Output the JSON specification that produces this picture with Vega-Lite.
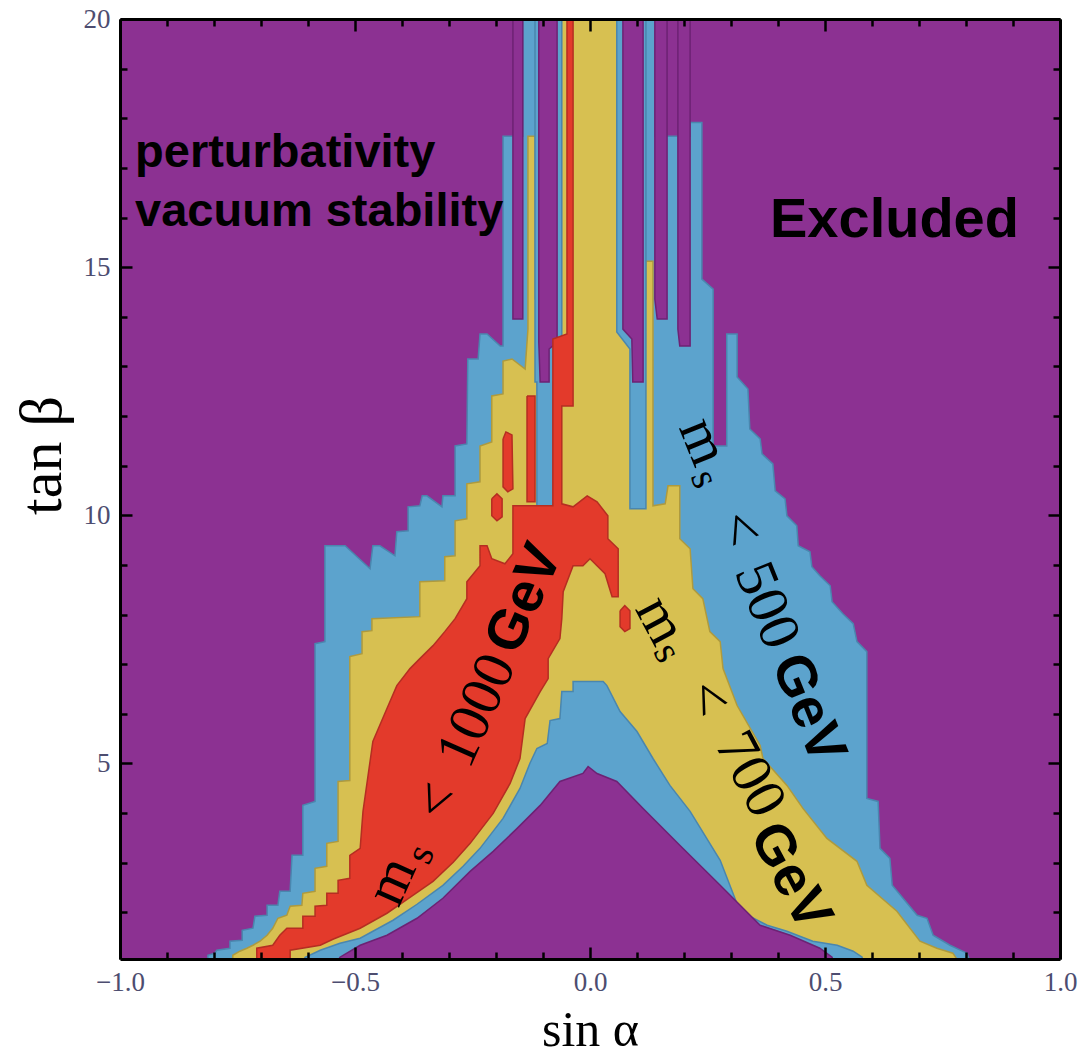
{
  "$schema": "https://vega.github.io/schema/vega-lite/v6.json",
  "width": 940,
  "height": 940,
  "autosize": "none",
  "padding": {"left": 120, "top": 19, "right": 22, "bottom": 97},
  "background": "white",
  "config": {"view": {"fill": "#8C3192", "stroke": null}},
  "datasets": {
    "blueOuter": [
      {"p":"o","i":0,"x":-0.813,"y":0.9},{"p":"o","i":1,"x":-0.813,"y":1.136},{"p":"o","i":2,"x":-0.798,"y":1.177},{"p":"o","i":3,"x":-0.794,"y":1.237},
      {"p":"o","i":4,"x":-0.766,"y":1.277},{"p":"o","i":5,"x":-0.766,"y":1.418},{"p":"o","i":6,"x":-0.740,"y":1.438},{"p":"o","i":7,"x":-0.740,"y":1.639},
      {"p":"o","i":8,"x":-0.717,"y":1.680},{"p":"o","i":9,"x":-0.713,"y":1.921},{"p":"o","i":10,"x":-0.687,"y":1.941},{"p":"o","i":11,"x":-0.687,"y":2.143},
      {"p":"o","i":12,"x":-0.664,"y":2.143},{"p":"o","i":13,"x":-0.660,"y":2.424},{"p":"o","i":14,"x":-0.638,"y":2.424},{"p":"o","i":15,"x":-0.634,"y":3.148},
      {"p":"o","i":16,"x":-0.611,"y":3.148},{"p":"o","i":17,"x":-0.611,"y":4.155},{"p":"o","i":18,"x":-0.585,"y":4.235},{"p":"o","i":19,"x":-0.585,"y":7.414},
      {"p":"o","i":20,"x":-0.564,"y":7.455},{"p":"o","i":21,"x":-0.564,"y":9.386},{"p":"o","i":22,"x":-0.521,"y":9.386},{"p":"o","i":23,"x":-0.468,"y":8.923},
      {"p":"o","i":24,"x":-0.462,"y":9.386},{"p":"o","i":25,"x":-0.447,"y":9.386},{"p":"o","i":26,"x":-0.415,"y":9.185},{"p":"o","i":27,"x":-0.411,"y":9.668},
      {"p":"o","i":28,"x":-0.387,"y":9.688},{"p":"o","i":29,"x":-0.387,"y":10.171},{"p":"o","i":30,"x":-0.362,"y":10.191},{"p":"o","i":31,"x":-0.357,"y":10.392},
      {"p":"o","i":32,"x":-0.347,"y":10.392},{"p":"o","i":33,"x":-0.315,"y":10.171},{"p":"o","i":34,"x":-0.313,"y":10.392},{"p":"o","i":35,"x":-0.287,"y":10.392},
      {"p":"o","i":36,"x":-0.287,"y":11.398},{"p":"o","i":37,"x":-0.262,"y":11.439},{"p":"o","i":38,"x":-0.260,"y":13.149},{"p":"o","i":39,"x":-0.238,"y":13.149},
      {"p":"o","i":40,"x":-0.234,"y":13.652},{"p":"o","i":41,"x":-0.219,"y":13.652},{"p":"o","i":42,"x":-0.191,"y":13.410},{"p":"o","i":43,"x":-0.185,"y":13.410},
      {"p":"o","i":44,"x":-0.185,"y":17.636},{"p":"o","i":45,"x":-0.143,"y":17.636},{"p":"o","i":46,"x":-0.143,"y":20.3},{"p":"o","i":47,"x":0.138,"y":20.3},
      {"p":"o","i":48,"x":0.138,"y":17.636},{"p":"o","i":49,"x":0.213,"y":17.636},{"p":"o","i":50,"x":0.213,"y":17.917},{"p":"o","i":51,"x":0.238,"y":17.917},
      {"p":"o","i":52,"x":0.238,"y":14.758},{"p":"o","i":53,"x":0.262,"y":14.557},{"p":"o","i":54,"x":0.262,"y":11.398},{"p":"o","i":55,"x":0.291,"y":11.398},
      {"p":"o","i":56,"x":0.291,"y":13.652},{"p":"o","i":57,"x":0.313,"y":13.652},{"p":"o","i":58,"x":0.313,"y":12.787},{"p":"o","i":59,"x":0.336,"y":12.545},
      {"p":"o","i":60,"x":0.340,"y":11.740},{"p":"o","i":61,"x":0.362,"y":11.539},{"p":"o","i":62,"x":0.366,"y":11.237},{"p":"o","i":63,"x":0.389,"y":11.036},
      {"p":"o","i":64,"x":0.394,"y":10.493},{"p":"o","i":65,"x":0.415,"y":10.332},{"p":"o","i":66,"x":0.419,"y":9.990},{"p":"o","i":67,"x":0.440,"y":9.788},
      {"p":"o","i":68,"x":0.443,"y":9.386},{"p":"o","i":69,"x":0.468,"y":9.265},{"p":"o","i":70,"x":0.472,"y":8.964},{"p":"o","i":71,"x":0.489,"y":8.782},
      {"p":"o","i":72,"x":0.511,"y":8.581},{"p":"o","i":73,"x":0.515,"y":8.259},{"p":"o","i":74,"x":0.538,"y":8.018},{"p":"o","i":75,"x":0.560,"y":7.817},
      {"p":"o","i":76,"x":0.568,"y":7.455},{"p":"o","i":77,"x":0.589,"y":7.253},{"p":"o","i":78,"x":0.589,"y":4.296},{"p":"o","i":79,"x":0.613,"y":4.235},
      {"p":"o","i":80,"x":0.617,"y":3.289},{"p":"o","i":81,"x":0.638,"y":3.088},{"p":"o","i":82,"x":0.643,"y":2.545},{"p":"o","i":83,"x":0.696,"y":1.941},
      {"p":"o","i":84,"x":0.717,"y":1.881},{"p":"o","i":85,"x":0.730,"y":1.539},{"p":"o","i":86,"x":0.766,"y":1.337},{"p":"o","i":87,"x":0.802,"y":1.177},
      {"p":"o","i":88,"x":0.813,"y":0.9}
    ],
    "yellow": [
      {"p":"y","i":0,"x":-0.760,"y":0.9},{"p":"y","i":1,"x":-0.760,"y":1.136},{"p":"y","i":2,"x":-0.745,"y":1.217},{"p":"y","i":3,"x":-0.730,"y":1.277},
      {"p":"y","i":4,"x":-0.717,"y":1.337},{"p":"y","i":5,"x":-0.702,"y":1.418},{"p":"y","i":6,"x":-0.687,"y":1.539},{"p":"y","i":7,"x":-0.675,"y":1.680},
      {"p":"y","i":8,"x":-0.664,"y":1.881},{"p":"y","i":9,"x":-0.645,"y":1.941},{"p":"y","i":10,"x":-0.638,"y":2.122},{"p":"y","i":11,"x":-0.613,"y":2.143},
      {"p":"y","i":12,"x":-0.611,"y":2.384},{"p":"y","i":13,"x":-0.585,"y":2.424},{"p":"y","i":14,"x":-0.585,"y":2.887},{"p":"y","i":15,"x":-0.560,"y":2.927},
      {"p":"y","i":16,"x":-0.560,"y":3.390},{"p":"y","i":17,"x":-0.536,"y":3.430},{"p":"y","i":18,"x":-0.536,"y":4.637},{"p":"y","i":19,"x":-0.511,"y":4.657},
      {"p":"y","i":20,"x":-0.511,"y":7.153},{"p":"y","i":21,"x":-0.485,"y":7.213},{"p":"y","i":22,"x":-0.485,"y":7.656},{"p":"y","i":23,"x":-0.464,"y":7.676},
      {"p":"y","i":24,"x":-0.464,"y":7.917},{"p":"y","i":25,"x":-0.362,"y":7.958},{"p":"y","i":26,"x":-0.362,"y":8.662},{"p":"y","i":27,"x":-0.309,"y":8.682},
      {"p":"y","i":28,"x":-0.309,"y":9.165},{"p":"y","i":29,"x":-0.287,"y":9.185},{"p":"y","i":30,"x":-0.287,"y":9.889},{"p":"y","i":31,"x":-0.262,"y":9.929},
      {"p":"y","i":32,"x":-0.262,"y":10.634},{"p":"y","i":33,"x":-0.234,"y":10.674},{"p":"y","i":34,"x":-0.234,"y":11.398},{"p":"y","i":35,"x":-0.209,"y":11.479},
      {"p":"y","i":36,"x":-0.209,"y":12.404},{"p":"y","i":37,"x":-0.185,"y":12.445},{"p":"y","i":38,"x":-0.185,"y":13.109},{"p":"y","i":39,"x":-0.166,"y":13.149},
      {"p":"y","i":40,"x":-0.138,"y":12.948},{"p":"y","i":41,"x":-0.132,"y":13.752},{"p":"y","i":42,"x":-0.132,"y":17.636},{"p":"y","i":43,"x":-0.117,"y":17.636},
      {"p":"y","i":44,"x":-0.117,"y":14.356},{"p":"y","i":45,"x":-0.068,"y":14.356},{"p":"y","i":46,"x":-0.068,"y":20.3},{"p":"y","i":47,"x":0.057,"y":20.3},
      {"p":"y","i":48,"x":0.057,"y":14.356},{"p":"y","i":49,"x":0.119,"y":14.356},{"p":"y","i":50,"x":0.119,"y":15.121},{"p":"y","i":51,"x":0.134,"y":15.121},
      {"p":"y","i":52,"x":0.134,"y":10.191},{"p":"y","i":53,"x":0.160,"y":10.231},{"p":"y","i":54,"x":0.166,"y":10.593},{"p":"y","i":55,"x":0.191,"y":10.593},
      {"p":"y","i":56,"x":0.191,"y":9.527},{"p":"y","i":57,"x":0.213,"y":9.326},{"p":"y","i":58,"x":0.219,"y":8.521},{"p":"y","i":59,"x":0.240,"y":8.320},
      {"p":"y","i":60,"x":0.255,"y":7.656},{"p":"y","i":61,"x":0.277,"y":7.455},{"p":"y","i":62,"x":0.283,"y":6.911},{"p":"y","i":63,"x":0.313,"y":6.167},
      {"p":"y","i":64,"x":0.362,"y":5.362},{"p":"y","i":65,"x":0.368,"y":5.100},{"p":"y","i":66,"x":0.419,"y":4.557},{"p":"y","i":67,"x":0.453,"y":4.094},
      {"p":"y","i":68,"x":0.504,"y":3.491},{"p":"y","i":69,"x":0.568,"y":3.028},{"p":"y","i":70,"x":0.589,"y":2.545},{"p":"y","i":71,"x":0.653,"y":2.022},
      {"p":"y","i":72,"x":0.702,"y":1.418},{"p":"y","i":73,"x":0.738,"y":1.277},{"p":"y","i":74,"x":0.772,"y":1.177},{"p":"y","i":75,"x":0.792,"y":0.9}
    ],
    "blueFingers": [
      {"p":"C","i":0,"x":-0.117,"y":20.3},{"p":"C","i":1,"x":-0.060,"y":20.3},{"p":"C","i":2,"x":-0.060,"y":12.686},{"p":"C","i":3,"x":-0.079,"y":12.686},
      {"p":"C","i":4,"x":-0.079,"y":10.131},{"p":"C","i":5,"x":-0.113,"y":10.131},{"p":"C","i":6,"x":-0.113,"y":12.686},{"p":"C","i":7,"x":-0.117,"y":12.686},
      {"p":"C","i":8,"x":-0.117,"y":20.3},
      {"p":"D","i":0,"x":0.057,"y":20.3},{"p":"D","i":1,"x":0.119,"y":20.3},{"p":"D","i":2,"x":0.119,"y":10.131},{"p":"D","i":3,"x":0.085,"y":10.131},
      {"p":"D","i":4,"x":0.085,"y":13.350},{"p":"D","i":5,"x":0.057,"y":13.692},{"p":"D","i":6,"x":0.057,"y":20.3}
    ],
    "purpleFingers": [
      {"p":"B","i":0,"x":-0.164,"y":20.3},{"p":"B","i":1,"x":-0.143,"y":20.3},{"p":"B","i":2,"x":-0.143,"y":13.953},{"p":"B","i":3,"x":-0.164,"y":13.953},{"p":"B","i":4,"x":-0.164,"y":20.3},
      {"p":"C","i":0,"x":-0.109,"y":20.3},{"p":"C","i":1,"x":-0.070,"y":20.3},{"p":"C","i":2,"x":-0.070,"y":13.490},{"p":"C","i":3,"x":-0.087,"y":13.350},
      {"p":"C","i":4,"x":-0.087,"y":12.686},{"p":"C","i":5,"x":-0.106,"y":12.686},{"p":"C","i":6,"x":-0.109,"y":13.490},{"p":"C","i":7,"x":-0.109,"y":20.3},
      {"p":"D","i":0,"x":0.070,"y":20.3},{"p":"D","i":1,"x":0.113,"y":20.3},{"p":"D","i":2,"x":0.113,"y":12.686},{"p":"D","i":3,"x":0.091,"y":12.686},
      {"p":"D","i":4,"x":0.089,"y":13.551},{"p":"D","i":5,"x":0.070,"y":13.752},{"p":"D","i":6,"x":0.070,"y":20.3},
      {"p":"E","i":0,"x":0.138,"y":20.3},{"p":"E","i":1,"x":0.164,"y":20.3},{"p":"E","i":2,"x":0.164,"y":13.953},{"p":"E","i":3,"x":0.143,"y":13.953},
      {"p":"E","i":4,"x":0.138,"y":14.356},{"p":"E","i":5,"x":0.138,"y":20.3},
      {"p":"F","i":0,"x":0.187,"y":20.3},{"p":"F","i":1,"x":0.213,"y":20.3},{"p":"F","i":2,"x":0.213,"y":13.410},{"p":"F","i":3,"x":0.191,"y":13.410},
      {"p":"F","i":4,"x":0.187,"y":13.752},{"p":"F","i":5,"x":0.187,"y":20.3}
    ],
    "red": [
      {"p":"R1","i":0,"x":-0.709,"y":0.9},{"p":"R1","i":1,"x":-0.709,"y":1.277},{"p":"R1","i":2,"x":-0.675,"y":1.337},{"p":"R1","i":3,"x":-0.660,"y":1.539},
      {"p":"R1","i":4,"x":-0.645,"y":1.680},{"p":"R1","i":5,"x":-0.611,"y":1.680},{"p":"R1","i":6,"x":-0.611,"y":1.921},{"p":"R1","i":7,"x":-0.585,"y":1.921},
      {"p":"R1","i":8,"x":-0.585,"y":2.122},{"p":"R1","i":9,"x":-0.560,"y":2.143},{"p":"R1","i":10,"x":-0.560,"y":2.384},{"p":"R1","i":11,"x":-0.536,"y":2.384},
      {"p":"R1","i":12,"x":-0.536,"y":2.645},{"p":"R1","i":13,"x":-0.511,"y":2.686},{"p":"R1","i":14,"x":-0.511,"y":3.148},{"p":"R1","i":15,"x":-0.489,"y":3.289},
      {"p":"R1","i":16,"x":-0.483,"y":4.034},{"p":"R1","i":17,"x":-0.462,"y":5.442},{"p":"R1","i":18,"x":-0.432,"y":6.106},{"p":"R1","i":19,"x":-0.411,"y":6.569},
      {"p":"R1","i":20,"x":-0.383,"y":6.911},{"p":"R1","i":21,"x":-0.362,"y":7.112},{"p":"R1","i":22,"x":-0.334,"y":7.374},{"p":"R1","i":23,"x":-0.309,"y":7.656},
      {"p":"R1","i":24,"x":-0.287,"y":7.917},{"p":"R1","i":25,"x":-0.262,"y":8.320},{"p":"R1","i":26,"x":-0.262,"y":8.662},{"p":"R1","i":27,"x":-0.234,"y":8.984},
      {"p":"R1","i":28,"x":-0.234,"y":9.386},{"p":"R1","i":29,"x":-0.219,"y":9.386},{"p":"R1","i":30,"x":-0.209,"y":9.124},{"p":"R1","i":31,"x":-0.181,"y":9.024},
      {"p":"R1","i":32,"x":-0.164,"y":9.225},{"p":"R1","i":33,"x":-0.164,"y":10.191},{"p":"R1","i":34,"x":-0.079,"y":10.191},{"p":"R1","i":35,"x":-0.079,"y":13.551},
      {"p":"R1","i":36,"x":-0.049,"y":13.652},{"p":"R1","i":37,"x":-0.049,"y":20.3},{"p":"R1","i":38,"x":-0.036,"y":20.3},{"p":"R1","i":39,"x":-0.036,"y":12.203},
      {"p":"R1","i":40,"x":-0.060,"y":12.203},{"p":"R1","i":41,"x":-0.060,"y":10.231},{"p":"R1","i":42,"x":-0.036,"y":10.171},{"p":"R1","i":43,"x":-0.006,"y":10.392},
      {"p":"R1","i":44,"x":0.015,"y":10.271},{"p":"R1","i":45,"x":0.038,"y":9.990},{"p":"R1","i":46,"x":0.038,"y":9.527},{"p":"R1","i":47,"x":0.060,"y":9.326},
      {"p":"R1","i":48,"x":0.060,"y":8.360},{"p":"R1","i":49,"x":0.047,"y":8.360},{"p":"R1","i":50,"x":0.032,"y":8.823},{"p":"R1","i":51,"x":0.000,"y":9.124},
      {"p":"R1","i":52,"x":-0.015,"y":8.984},{"p":"R1","i":53,"x":-0.036,"y":8.984},{"p":"R1","i":54,"x":-0.057,"y":8.461},{"p":"R1","i":55,"x":-0.060,"y":7.917},
      {"p":"R1","i":56,"x":-0.064,"y":7.515},{"p":"R1","i":57,"x":-0.089,"y":7.112},{"p":"R1","i":58,"x":-0.089,"y":6.710},{"p":"R1","i":59,"x":-0.106,"y":6.449},
      {"p":"R1","i":60,"x":-0.138,"y":5.905},{"p":"R1","i":61,"x":-0.149,"y":5.100},{"p":"R1","i":62,"x":-0.170,"y":4.597},{"p":"R1","i":63,"x":-0.206,"y":3.994},
      {"p":"R1","i":64,"x":-0.255,"y":3.390},{"p":"R1","i":65,"x":-0.291,"y":3.008},{"p":"R1","i":66,"x":-0.334,"y":2.625},{"p":"R1","i":67,"x":-0.383,"y":2.303},
      {"p":"R1","i":68,"x":-0.432,"y":1.982},{"p":"R1","i":69,"x":-0.489,"y":1.680},{"p":"R1","i":70,"x":-0.547,"y":1.458},{"p":"R1","i":71,"x":-0.574,"y":1.337},
      {"p":"R1","i":72,"x":-0.638,"y":1.237},{"p":"R1","i":73,"x":-0.638,"y":0.9},
      {"p":"R3","i":0,"x":-0.134,"y":12.404},{"p":"R3","i":1,"x":-0.117,"y":12.404},{"p":"R3","i":2,"x":-0.117,"y":10.271},{"p":"R3","i":3,"x":-0.134,"y":10.271},{"p":"R3","i":4,"x":-0.134,"y":12.404},
      {"p":"I1","i":0,"x":-0.185,"y":11.539},{"p":"I1","i":1,"x":-0.179,"y":11.680},{"p":"I1","i":2,"x":-0.166,"y":11.620},{"p":"I1","i":3,"x":-0.164,"y":10.533},
      {"p":"I1","i":4,"x":-0.175,"y":10.473},{"p":"I1","i":5,"x":-0.185,"y":10.573},{"p":"I1","i":6,"x":-0.185,"y":11.539},
      {"p":"I2","i":0,"x":-0.209,"y":10.332},{"p":"I2","i":1,"x":-0.198,"y":10.432},{"p":"I2","i":2,"x":-0.187,"y":10.332},{"p":"I2","i":3,"x":-0.187,"y":9.970},
      {"p":"I2","i":4,"x":-0.198,"y":9.889},{"p":"I2","i":5,"x":-0.209,"y":9.990},{"p":"I2","i":6,"x":-0.209,"y":10.332},
      {"p":"I3","i":0,"x":0.064,"y":8.078},{"p":"I3","i":1,"x":0.074,"y":8.179},{"p":"I3","i":2,"x":0.085,"y":8.078},{"p":"I3","i":3,"x":0.085,"y":7.716},
      {"p":"I3","i":4,"x":0.074,"y":7.656},{"p":"I3","i":5,"x":0.064,"y":7.756},{"p":"I3","i":6,"x":0.064,"y":8.078}
    ],
    "innerBlue": [
      {"p":"ib","i":0,"x":-0.617,"y":0.9},{"p":"ib","i":1,"x":-0.606,"y":1.096},{"p":"ib","i":2,"x":-0.574,"y":1.237},{"p":"ib","i":3,"x":-0.532,"y":1.378},
      {"p":"ib","i":4,"x":-0.489,"y":1.478},{"p":"ib","i":5,"x":-0.419,"y":1.841},{"p":"ib","i":6,"x":-0.368,"y":2.163},{"p":"ib","i":7,"x":-0.313,"y":2.545},
      {"p":"ib","i":8,"x":-0.270,"y":2.927},{"p":"ib","i":9,"x":-0.234,"y":3.289},{"p":"ib","i":10,"x":-0.185,"y":3.893},{"p":"ib","i":11,"x":-0.149,"y":4.497},
      {"p":"ib","i":12,"x":-0.128,"y":5.000},{"p":"ib","i":13,"x":-0.113,"y":5.302},{"p":"ib","i":14,"x":-0.091,"y":5.402},{"p":"ib","i":15,"x":-0.085,"y":5.865},
      {"p":"ib","i":16,"x":-0.064,"y":5.905},{"p":"ib","i":17,"x":-0.060,"y":6.449},{"p":"ib","i":18,"x":-0.036,"y":6.449},{"p":"ib","i":19,"x":-0.036,"y":6.650},
      {"p":"ib","i":20,"x":0.028,"y":6.650},{"p":"ib","i":21,"x":0.036,"y":6.569},{"p":"ib","i":22,"x":0.064,"y":6.046},{"p":"ib","i":23,"x":0.100,"y":5.644},
      {"p":"ib","i":24,"x":0.134,"y":5.100},{"p":"ib","i":25,"x":0.170,"y":4.557},{"p":"ib","i":26,"x":0.213,"y":4.034},{"p":"ib","i":27,"x":0.277,"y":3.048},
      {"p":"ib","i":28,"x":0.319,"y":2.022},{"p":"ib","i":29,"x":0.377,"y":1.740},{"p":"ib","i":30,"x":0.419,"y":1.619},{"p":"ib","i":31,"x":0.474,"y":1.418},
      {"p":"ib","i":32,"x":0.526,"y":1.337},{"p":"ib","i":33,"x":0.560,"y":1.217},{"p":"ib","i":34,"x":0.579,"y":1.096},{"p":"ib","i":35,"x":0.579,"y":0.9}
    ],
    "innerPurple": [
      {"p":"ip","i":0,"x":-0.543,"y":0.9},{"p":"ip","i":1,"x":-0.532,"y":1.096},{"p":"ip","i":2,"x":-0.489,"y":1.337},{"p":"ip","i":3,"x":-0.432,"y":1.539},
      {"p":"ip","i":4,"x":-0.368,"y":1.881},{"p":"ip","i":5,"x":-0.313,"y":2.283},{"p":"ip","i":6,"x":-0.255,"y":2.826},{"p":"ip","i":7,"x":-0.206,"y":3.229},
      {"p":"ip","i":8,"x":-0.155,"y":3.692},{"p":"ip","i":9,"x":-0.106,"y":4.155},{"p":"ip","i":10,"x":-0.064,"y":4.637},{"p":"ip","i":11,"x":-0.015,"y":4.798},
      {"p":"ip","i":12,"x":-0.004,"y":4.939},{"p":"ip","i":13,"x":0.015,"y":4.798},{"p":"ip","i":14,"x":0.057,"y":4.637},{"p":"ip","i":15,"x":0.113,"y":4.094},
      {"p":"ip","i":16,"x":0.191,"y":3.350},{"p":"ip","i":17,"x":0.277,"y":2.545},{"p":"ip","i":18,"x":0.362,"y":1.740},{"p":"ip","i":19,"x":0.426,"y":1.539},
      {"p":"ip","i":20,"x":0.489,"y":1.277},{"p":"ip","i":21,"x":0.515,"y":1.096},{"p":"ip","i":22,"x":0.521,"y":0.9}
    ],
    "notes": [
      {"t":"perturbativity","x":-0.968,"y":17.01},
      {"t":"vacuum stability","x":-0.968,"y":15.825}
    ],
    "excl": [{"t":"Excluded","x":0.383,"y":15.604}],
    "mass": [
      {"g":1000,"k":"main","t":"m","x":-0.421,"y":2.625},
      {"g":1000,"k":"sub","t":"s","x":-0.360,"y":3.169},
      {"g":1000,"k":"main","t":"<","x":-0.326,"y":4.235},
      {"g":1000,"k":"main","t":"1000","x":-0.240,"y":6.066},
      {"g":1000,"k":"gev","t":"GeV","x":-0.140,"y":8.320},
      {"g":700,"k":"main","t":"m","x":0.149,"y":7.877},
      {"g":700,"k":"sub","t":"s","x":0.164,"y":7.233},
      {"g":700,"k":"main","t":"<","x":0.249,"y":6.308},
      {"g":700,"k":"main","t":"700","x":0.340,"y":4.779},
      {"g":700,"k":"gev","t":"GeV","x":0.426,"y":2.726},
      {"g":500,"k":"main","t":"m","x":0.240,"y":11.479},
      {"g":500,"k":"sub","t":"s","x":0.243,"y":10.734},
      {"g":500,"k":"main","t":"<","x":0.317,"y":9.728},
      {"g":500,"k":"main","t":"500","x":0.375,"y":8.179},
      {"g":500,"k":"gev","t":"GeV","x":0.464,"y":6.106}
    ]
  },
  "resolve": {"axis": {"x": "independent", "y": "independent"}},
  "layer": [
    {
      "data": {"name": "blueOuter"},
      "mark": {"type": "line", "fill": "#5CA3CD", "stroke": "#4A86AE", "strokeWidth": 1.5, "clip": true},
      "encoding": {
        "x": {"field": "x", "type": "quantitative", "scale": {"domain": [-1, 1], "nice": false, "zero": false},
          "axis": {"orient": "bottom", "values": [-1, -0.5, 0, 0.5, 1], "format": ".1f", "tickSize": -12, "tickWidth": 2.5, "tickColor": "black",
            "domain": true, "domainWidth": 3, "domainColor": "black", "grid": false,
            "labelFont": "Liberation Serif", "labelFontSize": 27, "labelColor": "#4d4d70", "labelPadding": 22, "labelFlush": false, "labelOverlap": false, "labelBound": false,
            "title": "sin α", "titleFont": "Liberation Serif", "titleFontSize": 50, "titleFontWeight": "normal", "titleColor": "black",
            "titleBaseline": "alphabetic", "titleY": 86, "zindex": 1}},
        "y": {"field": "y", "type": "quantitative", "scale": {"domain": [1.06, 20], "nice": false, "zero": false},
          "axis": {"orient": "left", "values": [5, 10, 15, 20], "format": "d", "tickSize": -12, "tickWidth": 2.5, "tickColor": "black",
            "domain": true, "domainWidth": 3, "domainColor": "black", "grid": false,
            "labelFont": "Liberation Serif", "labelFontSize": 27, "labelColor": "#4d4d70", "labelPadding": 22, "labelFlush": false, "labelOverlap": false, "labelBound": false,
            "title": "tan β", "titleFont": "Liberation Serif", "titleFontSize": 60, "titleFontWeight": "normal", "titleColor": "black",
            "titleAngle": 270, "titleAlign": "center", "titleBaseline": "alphabetic", "titleX": -60, "titleY": 436, "zindex": 1}},
        "detail": {"field": "p"},
        "order": {"field": "i", "type": "quantitative"}
      }
    },
    {
      "data": {"name": "yellow"},
      "mark": {"type": "line", "fill": "#D7C051", "stroke": "#AE9A3E", "strokeWidth": 1.5, "clip": true},
      "encoding": {
        "x": {"field": "x", "type": "quantitative",
          "axis": {"orient": "bottom", "values": [-0.9,-0.8,-0.7,-0.6,-0.4,-0.3,-0.2,-0.1,0.1,0.2,0.3,0.4,0.6,0.7,0.8,0.9],
            "tickSize": -7, "tickWidth": 2.5, "tickColor": "black", "domain": false, "labels": false, "grid": false, "title": null, "zindex": 1}},
        "y": {"field": "y", "type": "quantitative",
          "axis": {"orient": "left", "values": [2,3,4,6,7,8,9,11,12,13,14,16,17,18,19],
            "tickSize": -7, "tickWidth": 2.5, "tickColor": "black", "domain": false, "labels": false, "grid": false, "title": null, "zindex": 1}},
        "detail": {"field": "p"},
        "order": {"field": "i", "type": "quantitative"}
      }
    },
    {
      "data": {"name": "blueFingers"},
      "mark": {"type": "line", "fill": "#5CA3CD", "stroke": "#4A86AE", "strokeWidth": 1.5, "clip": true},
      "encoding": {
        "x": {"field": "x", "type": "quantitative",
          "axis": {"orient": "top", "values": [-1, -0.5, 0, 0.5, 1], "tickSize": -12, "tickWidth": 2.5, "tickColor": "black",
            "domain": true, "domainWidth": 3, "domainColor": "black", "labels": false, "grid": false, "title": null, "zindex": 1}},
        "y": {"field": "y", "type": "quantitative",
          "axis": {"orient": "right", "values": [5, 10, 15, 20], "tickSize": -12, "tickWidth": 2.5, "tickColor": "black",
            "domain": true, "domainWidth": 3, "domainColor": "black", "labels": false, "grid": false, "title": null, "zindex": 1}},
        "detail": {"field": "p"},
        "order": {"field": "i", "type": "quantitative"}
      }
    },
    {
      "data": {"name": "purpleFingers"},
      "mark": {"type": "line", "fill": "#8C3192", "stroke": "#6D2274", "strokeWidth": 1.5, "clip": true},
      "encoding": {
        "x": {"field": "x", "type": "quantitative",
          "axis": {"orient": "top", "values": [-0.9,-0.8,-0.7,-0.6,-0.4,-0.3,-0.2,-0.1,0.1,0.2,0.3,0.4,0.6,0.7,0.8,0.9],
            "tickSize": -7, "tickWidth": 2.5, "tickColor": "black", "domain": false, "labels": false, "grid": false, "title": null, "zindex": 1}},
        "y": {"field": "y", "type": "quantitative",
          "axis": {"orient": "right", "values": [2,3,4,6,7,8,9,11,12,13,14,16,17,18,19],
            "tickSize": -7, "tickWidth": 2.5, "tickColor": "black", "domain": false, "labels": false, "grid": false, "title": null, "zindex": 1}},
        "detail": {"field": "p"},
        "order": {"field": "i", "type": "quantitative"}
      }
    },
    {
      "data": {"name": "red"},
      "mark": {"type": "line", "fill": "#E33A2B", "stroke": "#B52E22", "strokeWidth": 1.5, "clip": true},
      "encoding": {
        "x": {"field": "x", "type": "quantitative", "axis": null},
        "y": {"field": "y", "type": "quantitative", "axis": null},
        "detail": {"field": "p"},
        "order": {"field": "i", "type": "quantitative"}
      }
    },
    {
      "data": {"name": "innerBlue"},
      "mark": {"type": "line", "fill": "#5CA3CD", "stroke": "#4A86AE", "strokeWidth": 1.5, "clip": true},
      "encoding": {
        "x": {"field": "x", "type": "quantitative", "axis": null},
        "y": {"field": "y", "type": "quantitative", "axis": null},
        "detail": {"field": "p"},
        "order": {"field": "i", "type": "quantitative"}
      }
    },
    {
      "data": {"name": "innerPurple"},
      "mark": {"type": "line", "fill": "#8C3192", "stroke": "#6D2274", "strokeWidth": 1.5, "clip": true},
      "encoding": {
        "x": {"field": "x", "type": "quantitative", "axis": null},
        "y": {"field": "y", "type": "quantitative", "axis": null},
        "detail": {"field": "p"},
        "order": {"field": "i", "type": "quantitative"}
      }
    },
    {
      "data": {"name": "notes"},
      "mark": {"type": "text", "font": "Liberation Sans", "fontSize": 47, "fontWeight": "bold", "align": "left", "baseline": "alphabetic", "fill": "black"},
      "encoding": {
        "x": {"field": "x", "type": "quantitative", "axis": null},
        "y": {"field": "y", "type": "quantitative", "axis": null},
        "text": {"field": "t"}
      }
    },
    {
      "data": {"name": "excl"},
      "mark": {"type": "text", "font": "Liberation Sans", "fontSize": 56, "fontWeight": "bold", "align": "left", "baseline": "alphabetic", "fill": "black"},
      "encoding": {
        "x": {"field": "x", "type": "quantitative", "axis": null},
        "y": {"field": "y", "type": "quantitative", "axis": null},
        "text": {"field": "t"}
      }
    },
    {
      "data": {"name": "mass"},
      "transform": [{"filter": "datum.k === 'main'"}],
      "mark": {"type": "text", "font": "Liberation Serif", "fontSize": 58, "align": "center", "baseline": "middle", "fill": "black"},
      "encoding": {
        "x": {"field": "x", "type": "quantitative", "axis": null},
        "y": {"field": "y", "type": "quantitative", "axis": null},
        "text": {"field": "t"},
        "angle": {"field": "g", "type": "quantitative", "scale": {"domain": [500, 700, 1000], "range": [68, 62, -66]}, "legend": null}
      }
    },
    {
      "data": {"name": "mass"},
      "transform": [{"filter": "datum.k === 'sub'"}],
      "mark": {"type": "text", "font": "Liberation Serif", "fontSize": 40, "align": "center", "baseline": "middle", "fill": "black"},
      "encoding": {
        "x": {"field": "x", "type": "quantitative", "axis": null},
        "y": {"field": "y", "type": "quantitative", "axis": null},
        "text": {"field": "t"},
        "angle": {"field": "g", "type": "quantitative", "legend": null}
      }
    },
    {
      "data": {"name": "mass"},
      "transform": [{"filter": "datum.k === 'gev'"}],
      "mark": {"type": "text", "font": "Liberation Sans", "fontSize": 56, "fontWeight": "bold", "align": "center", "baseline": "middle", "fill": "black"},
      "encoding": {
        "x": {"field": "x", "type": "quantitative", "axis": null},
        "y": {"field": "y", "type": "quantitative", "axis": null},
        "text": {"field": "t"},
        "angle": {"field": "g", "type": "quantitative", "legend": null}
      }
    }
  ]
}
